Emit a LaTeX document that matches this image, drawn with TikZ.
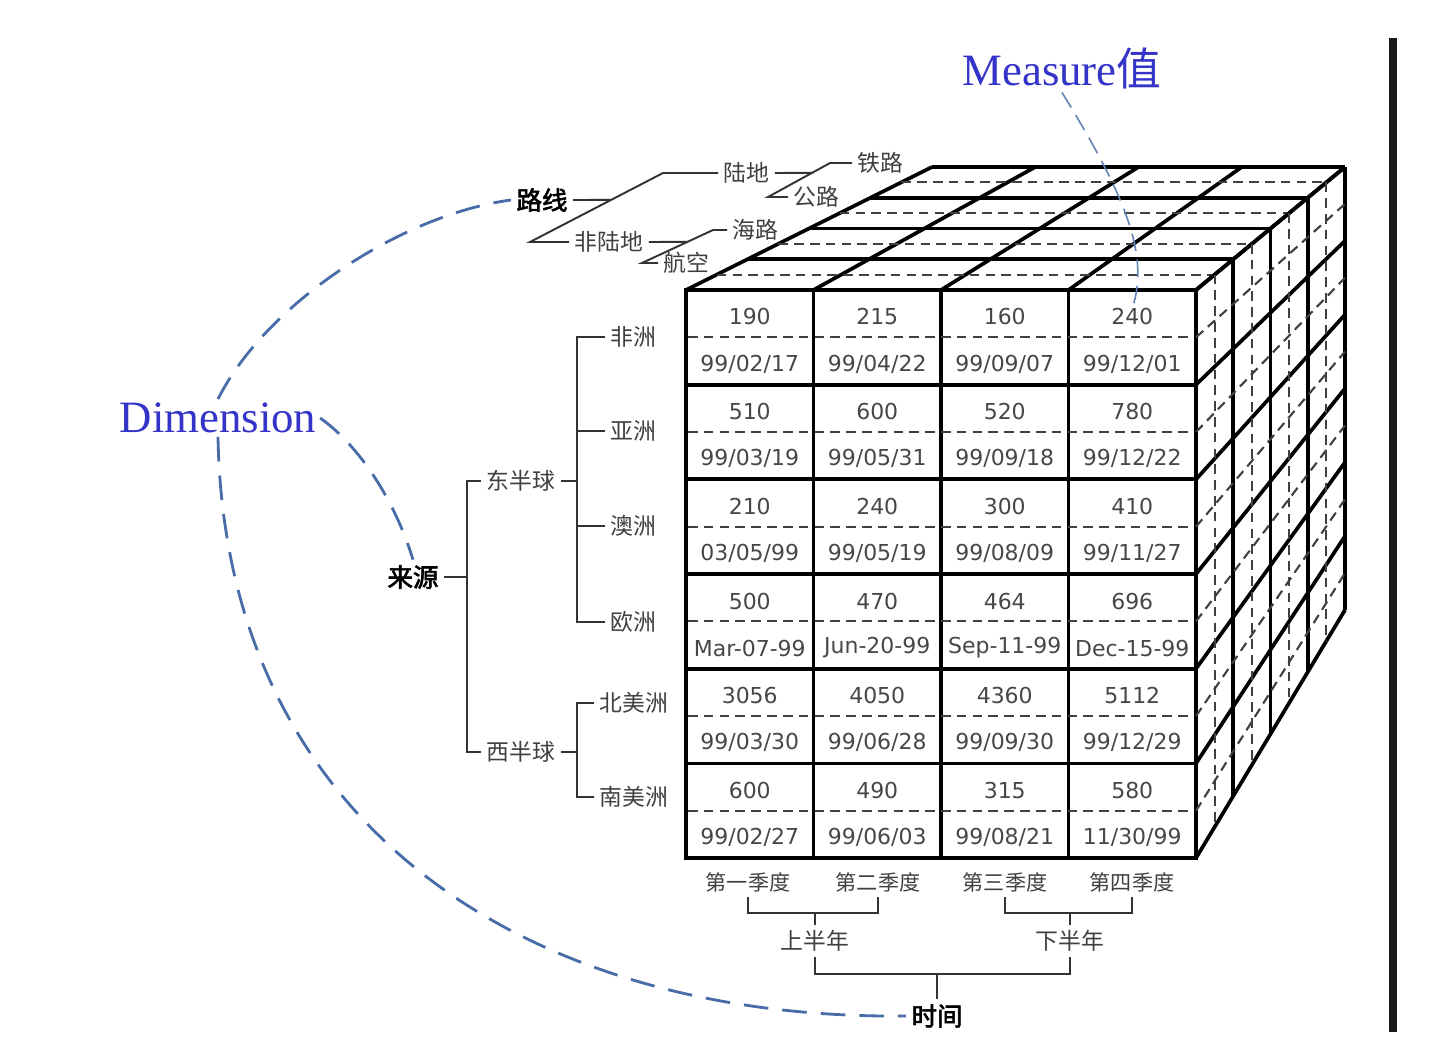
\documentclass[tikz,border=0pt]{standalone}
\usepackage{fontspec}
\setmainfont{DejaVu Sans}
\newfontfamily\cjk{Noto Sans CJK SC}
\newfontfamily\cjkbold[FakeBold=2.5]{Noto Sans CJK SC}
\newfontfamily\labelserif{Liberation Serif}
\usetikzlibrary{calc}
\definecolor{label blue}{RGB}{52,52,200}
\definecolor{link blue}{RGB}{72,108,168}
\colorlet{cube edge}{black}
\colorlet{cell text}{black!72}
\colorlet{tree line}{black!80}
\def\cellW{127.5}
\def\cellH{94.67}
\tikzset{cubeline/.style={draw=cube edge, line width=2.1pt},
    midline/.style={draw=black!75, line width=1.2pt, dash pattern=on 5.5pt off 3.5pt},
    cellval/.style={text=cell text, font=\fontsize{12.5}{14}\selectfont, inner sep=0pt},
    tree/.style={draw=tree line, line width=1.1pt},
    leaf/.style={text=black!75, font=\cjk\fontsize{13}{15}\selectfont, inner sep=3pt},
    quarter/.style={leaf, font=\cjk\fontsize{12}{14}\selectfont},
    root/.style={font=\cjkbold\fontsize{14.5}{16}\selectfont, inner sep=3pt},
    dimlink/.style={draw=link blue, line width=1.6pt, dash pattern=on 14pt off 8pt},
    measlink/.style={draw=link blue!85, line width=0.9pt, dash pattern=on 10pt off 5pt},
    bluelabel/.style={text=label blue, font=\labelserif\fontsize{25.5}{28}\selectfont, inner sep=2pt}}

\begin{document}
\begin{tikzpicture}[x=0.02cm, y=-0.02cm]
    \useasboundingbox (0,0) rectangle (1431,1061);
    \fill[white] (0,0) rectangle (1431,1061);
    % front face
    \foreach \j in {1,...,5}
        \draw[cubeline] (686,{290+\cellH*\j}) -- (1196,{290+\cellH*\j});
    \foreach \i in {1,2,3}
        \draw[cubeline] ({686+\cellW*\i},290) -- ({686+\cellW*\i},858);
    \foreach \j in {1,...,6}
        \draw[midline] (688,{290+\cellH*(\j-0.5)}) -- (1194,{290+\cellH*(\j-0.5)});
    \draw[cubeline, line width=2.5pt] (686,290) rectangle (1196,858);
    % top face
    \foreach \k in {1,...,4}
        \draw[cubeline] ({686+61.5*\k},{290-30.75*\k}) -- ({1196+37.25*\k},{290-30.75*\k});
    \foreach \i in {0,...,4}
        \draw[cubeline] ({686+\cellW*\i},290) -- ({932+103.25*\i},167);
    \foreach \k in {0,...,3}
        \draw[midline] ({686+61.5*(\k+0.5)},{290-30.75*(\k+0.5)}) -- ({1196+37.25*(\k+0.5)},{290-30.75*(\k+0.5)});
    % right face
    \foreach \k in {1,...,4}
        \draw[cubeline] ({1196+37.25*\k},{290-30.75*\k}) -- ({1196+37.25*\k},{858-62*\k});
    \foreach \j in {0,...,6}
        \draw[cubeline] (1196,{290+\cellH*\j}) -- (1345,{167+73.83*\j});
    \foreach \k in {0,...,3}
        \draw[midline] ({1196+37.25*(\k+0.5)},{290-30.75*(\k+0.5)}) -- ({1196+37.25*(\k+0.5)},{858-62*(\k+0.5)});
    \foreach \j in {0,...,5}
        \draw[midline] (1196,{290+\cellH*(\j+0.5)}) -- (1345,{167+73.83*(\j+0.5)});
    % cell values
    \foreach \vals [count=\j] in {{190,215,160,240},{510,600,520,780},{210,240,300,410},
            {500,470,464,696},{3056,4050,4360,5112},{600,490,315,580}}
        \foreach \v [count=\i] in \vals
            \node[cellval] (v\j\i) at ({686+\cellW*(\i-0.5)},{290+\cellH*(\j-1)+27}) {\v};
    \foreach \vals [count=\j] in {{99/02/17,99/04/22,99/09/07,99/12/01},
            {99/03/19,99/05/31,99/09/18,99/12/22},{03/05/99,99/05/19,99/08/09,99/11/27},
            {Mar-07-99,Jun-20-99,Sep-11-99,Dec-15-99},{99/03/30,99/06/28,99/09/30,99/12/29},
            {99/02/27,99/06/03,99/08/21,11/30/99}}
        \foreach \v [count=\i] in \vals
            \node[cellval] (d\j\i) at ({686+\cellW*(\i-0.5)},{290+\cellH*(\j-1)+74}) {\v};
    % source tree
    \node[root] (laiyuan) at (413,577) {来源};
    \node[leaf] (dong) at (521,481) {东半球};
    \node[leaf] (xi) at (521,752) {西半球};
    \node[leaf] (feizhou) at (633,337) {非洲};
    \node[leaf] (yazhou) at (633,431) {亚洲};
    \node[leaf] (aozhou) at (633,526) {澳洲};
    \node[leaf] (ouzhou) at (633,622) {欧洲};
    \node[leaf] (beimei) at (634,703) {北美洲};
    \node[leaf] (nanmei) at (634,797) {南美洲};
    \draw[tree] (laiyuan.east) -- (467,577);
    \draw[tree] (dong.west) -| (467,752) -- (xi.west);
    \draw[tree] (dong.east) -- (577,481);
    \draw[tree] (feizhou.west) -| (577,622) -- (ouzhou.west);
    \draw[tree] (yazhou.west) -- (577,431);
    \draw[tree] (aozhou.west) -- (577,526);
    \draw[tree] (xi.east) -- (577,752);
    \draw[tree] (beimei.west) -| (577,797) -- (nanmei.west);
    % time tree
    \node[quarter] (q1) at (748,882) {第一季度};
    \node[quarter] (q2) at (878,882) {第二季度};
    \node[quarter] (q3) at (1005,882) {第三季度};
    \node[quarter] (q4) at (1132,882) {第四季度};
    \node[leaf] (shang) at (815,941) {上半年};
    \node[leaf] (xia) at (1070,941) {下半年};
    \node[root] (shijian) at (937,1016) {时间};
    \draw[tree] (q1.south) -- ++(0,16) coordinate (qa) -| (q2.south);
    \draw[tree] (q3.south) -- ++(0,16) coordinate (qb) -| (q4.south);
    \draw[tree] (shang.north) -- (shang.north |- qa);
    \draw[tree] (xia.north) -- (xia.north |- qb);
    \draw[tree] (shang.south) -- ++(0,17) coordinate (ha) -| (xia.south);
    \draw[tree] (shijian.north) -- (shijian.north |- ha);
    % route tree
    \node[root] (luxian) at (542,200) {路线};
    \node[leaf, anchor=west] (ludi) at (718,173) {陆地};
    \node[leaf, anchor=west] (feiludi) at (569,242) {非陆地};
    \node[leaf, anchor=west] (tielu) at (852,163) {铁路};
    \node[leaf, anchor=west] (gonglu) at (788,197) {公路};
    \node[leaf, anchor=west] (hailu) at (727,230) {海路};
    \node[leaf, anchor=west] (hangkong) at (658,263) {航空};
    \coordinate (r1) at (530,242);
    \coordinate (r2) at (663,173);
    \draw[tree] (feiludi.west) -- (r1) -- (r2) -- (ludi.west);
    \draw[tree] (luxian.east) -- ($(r1)!0.61!(r2)$);
    \coordinate (s1) at (768,197);
    \coordinate (s2) at (830,163);
    \draw[tree] (gonglu.west) -- (s1) -- (s2) -- (tielu.west);
    \draw[tree] (ludi.east) -- ($(s1)!0.71!(s2)$);
    \coordinate (t1) at (642,263);
    \coordinate (t2) at (713,230);
    \draw[tree] (hangkong.west) -- (t1) -- (t2) -- (hailu.west);
    \draw[tree] (feiludi.east) -- ($(t1)!0.64!(t2)$);
    % labels and links
    \node[bluelabel] (dim) at (218,418) {Dimension};
    \node[bluelabel] (meas) at (1062,68) {Measure{\cjk 值}};
    \draw[dimlink] (dim.north) .. controls (265,305) and (400,215) .. (luxian.west);
    \draw[dimlink] (dim.east) .. controls (365,450) and (398,510) .. (laiyuan.north);
    \draw[dimlink] (dim.south) .. controls (225,820) and (520,1020) .. (shijian.west);
    \draw[measlink] (meas.south) .. controls (1125,195) and (1150,255) .. (v14.north);
    \draw[line width=4pt, black!90] (1393,38) -- (1393,1032);
\end{tikzpicture}
\end{document}
